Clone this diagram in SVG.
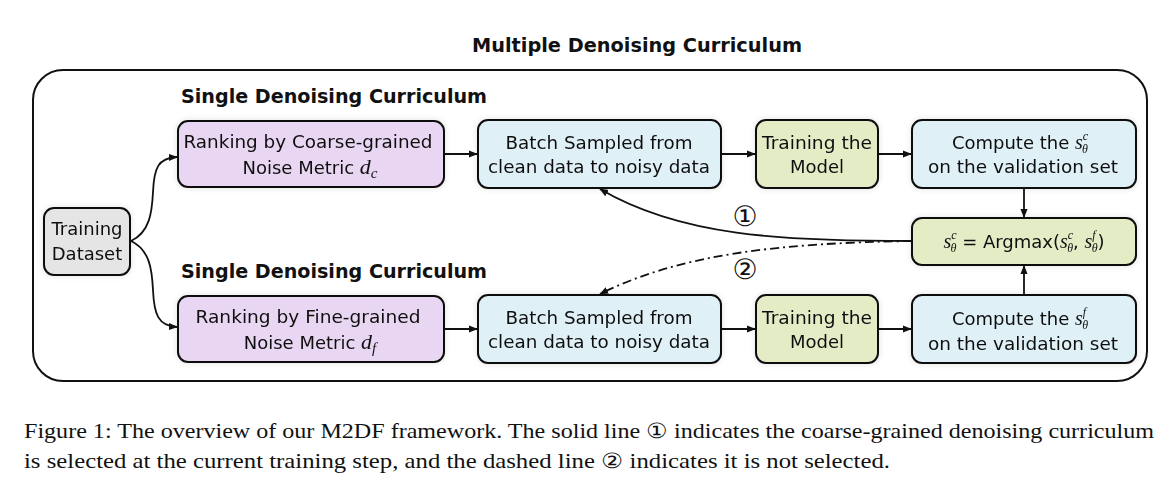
<svg xmlns="http://www.w3.org/2000/svg" width="1173" height="483" viewBox="0 0 1173 483">
<defs>
<marker id="ah" viewBox="0 0 10 10" refX="9" refY="5" markerWidth="5" markerHeight="5" orient="auto-start-reverse"><path d="M0,1 L10,5 L0,9 z" fill="#111"/></marker>
<filter id="glow" x="-10%" y="-20%" width="120%" height="140%"><feGaussianBlur in="SourceAlpha" stdDeviation="3"/><feComponentTransfer><feFuncA type="linear" slope="0.12"/></feComponentTransfer><feMerge><feMergeNode/><feMergeNode in="SourceGraphic"/></feMerge></filter>
</defs>
<style>
.box{stroke:#111;stroke-width:2;}
.purple{fill:#e9d6f2;}
.blue{fill:#dff0f7;}
.green{fill:#e4ecc6;}
.gray{fill:#e5e5e5;}
.t{font-family:"DejaVu Sans","Liberation Sans",sans-serif;font-size:18px;fill:#111;text-anchor:middle;}
.h{font-family:"DejaVu Sans","Liberation Sans",sans-serif;font-size:19px;font-weight:bold;fill:#111;}
.m{font-family:"Liberation Serif",serif;font-style:italic;}
.cap{font-family:"Liberation Serif","Times New Roman",serif;font-size:21px;fill:#111;}
.conn{fill:none;stroke:#111;stroke-width:1.8;}
.num{font-family:"DejaVu Sans",sans-serif;font-size:28px;fill:#111;text-anchor:middle;}
</style>
<text class="h" x="637" y="52" text-anchor="middle" textLength="330" lengthAdjust="spacingAndGlyphs">Multiple Denoising Curriculum</text>
<rect x="33" y="70" width="1114" height="311" rx="30" fill="none" stroke="#111" stroke-width="2"/>
<text class="h" x="181" y="103" textLength="306" lengthAdjust="spacingAndGlyphs">Single Denoising Curriculum</text>
<text class="h" x="181" y="278" textLength="306" lengthAdjust="spacingAndGlyphs">Single Denoising Curriculum</text>

<g id="connectors">
<path class="conn" d="M131,241 C150,232 152,212 153,192 C154,168 158,158 177,157" marker-end="url(#ah)"/>
<path class="conn" d="M131,241 C150,250 152,270 153,290 C154,314 158,326 177,327" marker-end="url(#ah)"/>
<line class="conn" x1="444" y1="154" x2="477" y2="154" marker-end="url(#ah)"/>
<line class="conn" x1="721" y1="154" x2="755" y2="154" marker-end="url(#ah)"/>
<line class="conn" x1="878" y1="154" x2="911" y2="154" marker-end="url(#ah)"/>
<line class="conn" x1="444" y1="329" x2="477" y2="329" marker-end="url(#ah)"/>
<line class="conn" x1="721" y1="329" x2="755" y2="329" marker-end="url(#ah)"/>
<line class="conn" x1="878" y1="329" x2="911" y2="329" marker-end="url(#ah)"/>
<line class="conn" x1="1024" y1="188" x2="1024" y2="217" marker-end="url(#ah)"/>
<line class="conn" x1="1024" y1="295" x2="1024" y2="266" marker-end="url(#ah)"/>
<path class="conn" d="M912,241 C780,241 680,236 600,189" marker-end="url(#ah)"/>
<path class="conn" d="M912,241 C780,243 680,254 600,294" stroke-dasharray="9,4,2,4" marker-end="url(#ah)"/>
<text class="num" x="745" y="226">①</text>
<text class="num" x="745" y="279">②</text>
</g>

<g id="dataset" filter="url(#glow)">
<rect class="box gray" x="44" y="208" width="86" height="67" rx="10"/>
<text class="t" x="87" y="235">Training</text>
<text class="t" x="87" y="260">Dataset</text>
</g>

<g id="rank-coarse" filter="url(#glow)">
<rect class="box purple" x="178" y="121" width="266" height="66" rx="10"/>
<text class="t" x="308" y="148" textLength="249" lengthAdjust="spacingAndGlyphs">Ranking by Coarse-grained</text>
<text class="t" x="310" y="174">Noise Metric <tspan class="m" font-size="22">d</tspan><tspan class="m" font-size="15" dy="4">c</tspan></text>
</g>
<g id="batch-top" filter="url(#glow)">
<rect class="box blue" x="478" y="120" width="243" height="68" rx="10"/>
<text class="t" x="599" y="149" textLength="187" lengthAdjust="spacingAndGlyphs">Batch Sampled from</text>
<text class="t" x="599" y="173" textLength="222" lengthAdjust="spacingAndGlyphs">clean data to noisy data</text>
</g>
<g id="train-top" filter="url(#glow)">
<rect class="box green" x="756" y="120" width="122" height="68" rx="10"/>
<text class="t" x="817" y="149" textLength="110" lengthAdjust="spacingAndGlyphs">Training the</text>
<text class="t" x="817" y="173">Model</text>
</g>
<g id="compute-c" filter="url(#glow)">
<rect class="box blue" x="912" y="120" width="224" height="68" rx="10"/>
<text class="t" x="1020" y="149">Compute the <tspan class="m" font-size="20">s</tspan><tspan class="m" font-size="12" dy="-9">c</tspan><tspan class="m" font-size="12" dx="-6" dy="13">θ</tspan></text>
<text class="t" x="1023" y="173" textLength="190" lengthAdjust="spacingAndGlyphs">on the validation set</text>
</g>
<g id="argmax" filter="url(#glow)">
<rect class="box green" x="912" y="218" width="224" height="47" rx="10"/>
<text class="t" x="1024" y="248"><tspan class="m" font-size="20">s</tspan><tspan class="m" font-size="12" dy="-9">c</tspan><tspan class="m" font-size="12" dx="-6" dy="13">θ</tspan><tspan dy="-4"> = Argmax(</tspan><tspan class="m" font-size="20">s</tspan><tspan class="m" font-size="12" dy="-9">c</tspan><tspan class="m" font-size="12" dx="-6" dy="13">θ</tspan><tspan dy="-4">, </tspan><tspan class="m" font-size="20">s</tspan><tspan class="m" font-size="12" dy="-9">f</tspan><tspan class="m" font-size="12" dx="-4" dy="13">θ</tspan><tspan dy="-4">)</tspan></text>
</g>

<g id="rank-fine" filter="url(#glow)">
<rect class="box purple" x="178" y="296" width="266" height="66" rx="10"/>
<text class="t" x="308" y="323" textLength="225" lengthAdjust="spacingAndGlyphs">Ranking by Fine-grained</text>
<text class="t" x="310" y="349">Noise Metric <tspan class="m" font-size="22">d</tspan><tspan class="m" font-size="15" dy="4">f</tspan></text>
</g>
<g id="batch-bottom" filter="url(#glow)">
<rect class="box blue" x="478" y="295" width="243" height="68" rx="10"/>
<text class="t" x="599" y="324" textLength="187" lengthAdjust="spacingAndGlyphs">Batch Sampled from</text>
<text class="t" x="599" y="348" textLength="222" lengthAdjust="spacingAndGlyphs">clean data to noisy data</text>
</g>
<g id="train-bottom" filter="url(#glow)">
<rect class="box green" x="756" y="295" width="122" height="68" rx="10"/>
<text class="t" x="817" y="324" textLength="110" lengthAdjust="spacingAndGlyphs">Training the</text>
<text class="t" x="817" y="348">Model</text>
</g>
<g id="compute-f" filter="url(#glow)">
<rect class="box blue" x="912" y="295" width="224" height="68" rx="10"/>
<text class="t" x="1020" y="325">Compute the <tspan class="m" font-size="20">s</tspan><tspan class="m" font-size="12" dy="-9">f</tspan><tspan class="m" font-size="12" dx="-4" dy="13">θ</tspan></text>
<text class="t" x="1023" y="350" textLength="190" lengthAdjust="spacingAndGlyphs">on the validation set</text>
</g>

<text class="cap" x="24" y="438" textLength="1130" lengthAdjust="spacingAndGlyphs">Figure 1: The overview of our M2DF framework. The solid line ① indicates the coarse-grained denoising curriculum</text>
<text class="cap" x="24" y="468" textLength="866" lengthAdjust="spacingAndGlyphs">is selected at the current training step, and the dashed line ② indicates it is not selected.</text>
</svg>
